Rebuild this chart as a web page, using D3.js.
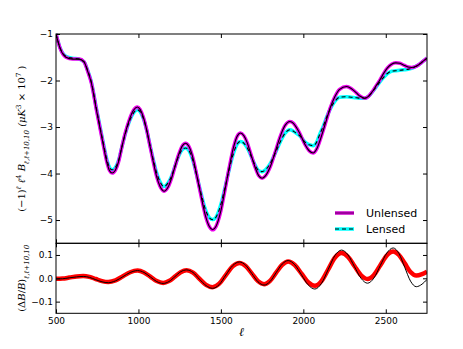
<!DOCTYPE html>
<html>
<head>
<meta charset="utf-8">
<script src="https://cdn.jsdelivr.net/npm/d3@7"></script>
<style>
  body { margin: 0; background: #fff; }
  svg { display: block; }
  .tick text { font-family: "DejaVu Sans", sans-serif; font-size: 9px; fill: #000; }
  .tick line { stroke: #000; }
</style>
</head>
<body>
<svg id="chart" width="463" height="349"></svg>
<script>
var ells = [500, 525, 560, 600, 640, 670, 690, 715, 745, 785, 810, 825, 840, 860, 880, 900,
            920, 945, 970, 993, 1010, 1030, 1050, 1070, 1090, 1110, 1130, 1155, 1180, 1200,
            1220, 1241, 1265, 1286, 1305, 1330, 1355, 1380, 1405, 1430, 1450, 1470, 1500,
            1525, 1550, 1575, 1600, 1619, 1640, 1660, 1680, 1705, 1730, 1750, 1770, 1800,
            1830, 1860, 1890, 1918, 1940, 1960, 1979, 2009, 2035, 2059, 2080, 2100, 2120,
            2140, 2165, 2191, 2220, 2262, 2290, 2320, 2345, 2373, 2395, 2420, 2440, 2464,
            2490, 2510, 2535, 2561, 2585, 2610, 2635, 2656, 2680, 2700, 2725, 2750];

var unlensed = [-1.00, -1.31, -1.50, -1.54, -1.54, -1.60, -1.78, -2.06, -2.63, -3.35, -3.78,
                -3.94, -3.99, -3.93, -3.74, -3.42, -3.13, -2.84, -2.64, -2.57, -2.62, -2.79,
                -3.06, -3.41, -3.75, -4.06, -4.27, -4.38, -4.29, -4.11, -3.87, -3.62, -3.41,
                -3.35, -3.41, -3.66, -4.06, -4.49, -4.89, -5.14, -5.21, -5.14, -4.80, -4.35,
                -3.88, -3.46, -3.19, -3.13, -3.19, -3.34, -3.56, -3.84, -4.05, -4.10, -4.05,
                -3.85, -3.53, -3.20, -2.96, -2.88, -2.92, -3.02, -3.14, -3.37, -3.51, -3.56,
                -3.48, -3.30, -3.08, -2.85, -2.57, -2.35, -2.19, -2.13, -2.17, -2.26, -2.34,
                -2.38, -2.34, -2.23, -2.12, -1.99, -1.83, -1.73, -1.65, -1.62, -1.63, -1.67,
                -1.71, -1.72, -1.70, -1.66, -1.59, -1.52];

var lensed = [-1.00, -1.30, -1.48, -1.52, -1.54, -1.60, -1.76, -2.04, -2.60, -3.31, -3.72,
              -3.87, -3.92, -3.87, -3.71, -3.42, -3.15, -2.88, -2.70, -2.63, -2.67, -2.82,
              -3.07, -3.39, -3.70, -3.98, -4.17, -4.28, -4.20, -4.06, -3.86, -3.65, -3.49,
              -3.45, -3.50, -3.72, -4.06, -4.43, -4.76, -4.95, -4.99, -4.94, -4.66, -4.30,
              -3.92, -3.58, -3.36, -3.31, -3.35, -3.45, -3.60, -3.80, -3.94, -3.96, -3.92,
              -3.78, -3.56, -3.32, -3.13, -3.06, -3.09, -3.14, -3.19, -3.32, -3.38, -3.40,
              -3.33, -3.15, -2.99, -2.80, -2.60, -2.45, -2.36, -2.35, -2.36, -2.37, -2.38,
              -2.38, -2.34, -2.24, -2.15, -2.03, -1.92, -1.85, -1.80, -1.79, -1.78, -1.77,
              -1.76, -1.74, -1.70, -1.66, -1.59, -1.52];

// lower panel, fractional difference
var ellsRatio = [500, 540, 580, 625, 665, 703, 741, 779, 817, 861, 906, 950, 995, 1034, 1072,
                 1111, 1150, 1185, 1221, 1256, 1292, 1331, 1370, 1410, 1449, 1490, 1530, 1571,
                 1612, 1650, 1687, 1725, 1762, 1798, 1835, 1872, 1908, 1948, 1989, 2029, 2070,
                 2110, 2151, 2191, 2232, 2271, 2310, 2350, 2389, 2428, 2467, 2506, 2545, 2580,
                 2615, 2650, 2685, 2720, 2750];

var ratioTheory = [-0.003, -0.002, 0.002, 0.006, 0.008, 0.004, -0.006, -0.015, -0.019, -0.011,
                   0.007, 0.025, 0.033, 0.025, 0.006, -0.014, -0.022, -0.014, 0.007, 0.028,
                   0.036, 0.025, -0.004, -0.031, -0.043, -0.027, 0.014, 0.054, 0.070, 0.056,
                   0.021, -0.015, -0.029, -0.014, 0.024, 0.061, 0.076, 0.058, 0.015, -0.028,
                   -0.046, -0.022, 0.038, 0.097, 0.121, 0.100, 0.050, 0.000, -0.021, 0.001,
                   0.055, 0.108, 0.130, 0.106, 0.047, -0.012, -0.036, -0.025, -0.005];

var ratioSim = [-0.002, -0.001, 0.003, 0.008, 0.010, 0.006, -0.003, -0.012, -0.016, -0.009,
                0.009, 0.026, 0.033, 0.025, 0.007, -0.012, -0.020, -0.012, 0.007, 0.026,
                0.034, 0.024, -0.002, -0.028, -0.038, -0.023, 0.014, 0.051, 0.066, 0.053,
                0.021, -0.012, -0.025, -0.011, 0.024, 0.058, 0.072, 0.057, 0.020, -0.017,
                -0.032, -0.012, 0.038, 0.088, 0.108, 0.092, 0.053, 0.013, -0.003, 0.014,
                0.056, 0.098, 0.115, 0.100, 0.064, 0.027, 0.012, 0.018, 0.028];

var xTicks = [500, 1000, 1500, 2000, 2500];
var topTicks = [-5, -4, -3, -2, -1];
var botTicks = [-0.1, 0.0, 0.1];

var legendItems = [
    {name: "Unlensed", color: "#cc00cc", dash: null},
    {name: "Lensed", color: "#00ffff", dash: "4,3"}
];

var svg = d3.select("#chart");

var left = 56, right = 427, top1 = 34, mid = 243.3, bot = 313.3;

var xScale = d3.scaleLinear().domain([500, 2750]).range([left, right]);
var yTop = d3.scaleLinear().domain([-5.5, -1]).range([mid, top1]);
var yBot = d3.scaleLinear().domain([-0.15, 0.15]).range([bot, mid]);

svg.append("defs").append("clipPath").attr("id", "clipTop")
    .append("rect").attr("x", left).attr("y", top1 - 3)
    .attr("width", right - left).attr("height", mid - top1 + 3);
svg.select("defs").append("clipPath").attr("id", "clipBot")
    .append("rect").attr("x", left).attr("y", mid)
    .attr("width", right - left).attr("height", bot - mid);

var pairs = function(xs, ys) {
    return xs.map(function(l, i) { return {l: l, v: ys[i]}; });
};

var lineTop = d3.line()
    .x(function(d) { return xScale(d.l); })
    .y(function(d) { return yTop(d.v); })
    .curve(d3.curveMonotoneX);

var lineBot = d3.line()
    .x(function(d) { return xScale(d.l); })
    .y(function(d) { return yBot(d.v); })
    .curve(d3.curveMonotoneX);

var topG = svg.append("g").attr("clip-path", "url(#clipTop)");

// simulated bands first, theory lines on top
topG.append("path").datum(pairs(ells, lensed))
    .attr("d", lineTop).attr("fill", "none")
    .attr("stroke", "#00ffff").attr("stroke-width", 3.5)
    .attr("stroke-linejoin", "round");
topG.append("path").datum(pairs(ells, unlensed))
    .attr("d", lineTop).attr("fill", "none")
    .attr("stroke", "#ee00ee").attr("stroke-width", 3.5)
    .attr("stroke-linejoin", "round");
topG.append("path").datum(pairs(ells, unlensed))
    .attr("d", lineTop).attr("fill", "none")
    .attr("stroke", "#000").attr("stroke-width", 1.1);
topG.append("path").datum(pairs(ells, lensed))
    .attr("d", lineTop).attr("fill", "none")
    .attr("stroke", "#000").attr("stroke-width", 1.1)
    .attr("stroke-dasharray", "4,3");

var botG = svg.append("g").attr("clip-path", "url(#clipBot)");

botG.append("path").datum(pairs(ellsRatio, ratioSim))
    .attr("d", lineBot).attr("fill", "none")
    .attr("stroke", "#ff0000").attr("stroke-width", 4.5)
    .attr("stroke-linejoin", "round");
botG.append("path").datum(pairs(ellsRatio, ratioTheory))
    .attr("d", lineBot).attr("fill", "none")
    .attr("stroke", "#000").attr("stroke-width", 1);

// axes: ticks point inward on every side
var addAxis = function(axis, tx, ty) {
    var g = svg.append("g")
        .attr("transform", "translate(" + tx + "," + ty + ")")
        .call(axis);
    g.select(".domain").remove();
    return g;
};

addAxis(d3.axisLeft(yTop).tickValues(topTicks).tickFormat(d3.format("d"))
        .tickSizeInner(-4).tickPadding(3), left, 0);
addAxis(d3.axisRight(yTop).tickValues(topTicks).tickFormat("")
        .tickSizeInner(-4), right, 0);
addAxis(d3.axisTop(xScale).tickValues(xTicks).tickFormat("")
        .tickSizeInner(-4), 0, top1);
addAxis(d3.axisBottom(xScale).tickValues(xTicks).tickFormat("")
        .tickSizeInner(-4), 0, mid);
addAxis(d3.axisTop(xScale).tickValues(xTicks).tickFormat("")
        .tickSizeInner(-4), 0, mid);
addAxis(d3.axisLeft(yBot).tickValues(botTicks).tickFormat(d3.format(".1f"))
        .tickSizeInner(-4).tickPadding(3), left, 0);
addAxis(d3.axisRight(yBot).tickValues(botTicks).tickFormat("")
        .tickSizeInner(-4), right, 0);
addAxis(d3.axisBottom(xScale).tickValues(xTicks).tickFormat(d3.format("d"))
        .tickSizeInner(-4).tickPadding(4), 0, bot);

// frames
svg.append("rect").attr("x", left).attr("y", top1)
    .attr("width", right - left).attr("height", mid - top1)
    .attr("fill", "none").attr("stroke", "#000").attr("stroke-width", 1);
svg.append("rect").attr("x", left).attr("y", mid)
    .attr("width", right - left).attr("height", bot - mid)
    .attr("fill", "none").attr("stroke", "#000").attr("stroke-width", 1);

// legend
var legend = svg.append("g").attr("transform", "translate(335,213)");
var entries = legend.selectAll("g").data(legendItems).enter().append("g")
    .attr("transform", function(d, i) { return "translate(0," + i * 16 + ")"; });
entries.append("line").attr("x1", 0).attr("x2", 19)
    .attr("stroke", function(d) { return d.color; }).attr("stroke-width", 3.5);
entries.append("line").attr("x1", 0).attr("x2", 19)
    .attr("stroke", "#000").attr("stroke-width", 1)
    .attr("stroke-dasharray", function(d) { return d.dash; })
    .attr("stroke-opacity", function(d) { return d.dash ? 1 : 0.45; });
entries.append("text").text(function(d) { return d.name; })
    .attr("x", 31).attr("y", 4)
    .style("font-family", "DejaVu Sans, sans-serif").style("font-size", "11px");

// axis labels
var serif = "DejaVu Serif, serif";

svg.append("text").text("ℓ")
    .attr("x", (left + right) / 2).attr("y", 336)
    .attr("text-anchor", "middle")
    .style("font-family", serif).style("font-style", "italic").style("font-size", "12px");

var yLab = svg.append("text")
    .attr("transform", "translate(25," + ((top1 + mid) / 2) + ") rotate(-90)")
    .attr("text-anchor", "middle")
    .style("font-family", serif).style("font-size", "10px");
var addPart = function(t, str, shift, size, italic) {
    var s = t.append("tspan").text(str);
    if (shift) s.attr("baseline-shift", shift);
    if (size) s.style("font-size", size);
    if (italic) s.style("font-style", "italic");
    return s;
};
addPart(yLab, "(−1)");
addPart(yLab, "ℓ", "super", "7px", true);
addPart(yLab, " ℓ", null, null, true);
addPart(yLab, "4", "super", "7px");
addPart(yLab, " B", null, null, true);
addPart(yLab, "ℓ,ℓ+10,10", "sub", "7px", true);
addPart(yLab, " (μK", null, null, true);
addPart(yLab, "3", "super", "7px");
addPart(yLab, " × 10");
addPart(yLab, "7", "super", "7px");
addPart(yLab, " )");

var rLab = svg.append("text")
    .attr("transform", "translate(25," + ((mid + bot) / 2) + ") rotate(-90)")
    .attr("text-anchor", "middle")
    .style("font-family", serif).style("font-size", "10px");
addPart(rLab, "(Δ");
addPart(rLab, "B", null, null, true);
addPart(rLab, "/");
addPart(rLab, "B", null, null, true);
addPart(rLab, ")");
addPart(rLab, "ℓ,ℓ+10,10", "sub", "7px", true);
</script>
</body>
</html>
